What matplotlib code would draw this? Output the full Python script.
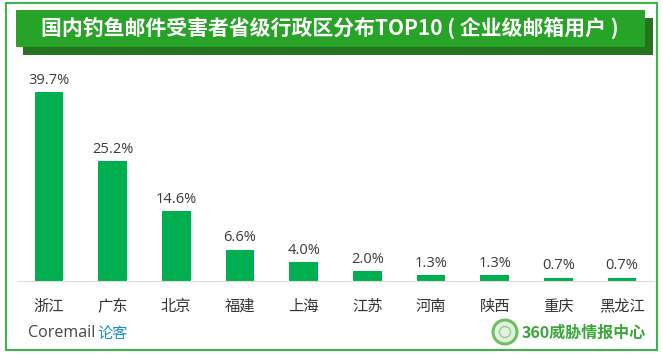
import matplotlib
matplotlib.use('Agg')
from matplotlib import pyplot as plt
from matplotlib.patches import Rectangle, Ellipse

plt.rcParams['font.family'] = ['Noto Sans CJK SC', 'DejaVu Sans']

provinces = ['浙江', '广东', '北京', '福建', '上海', '江苏', '河南', '陕西', '重庆', '黑龙江']
shares = [39.7, 25.2, 14.6, 6.6, 4.0, 2.0, 1.3, 1.3, 0.7, 0.7]
title = '国内钓鱼邮件受害者省级行政区分布TOP10 ( 企业级邮箱用户 )'

W, H = 663, 354
fig = plt.figure(figsize=(W / 100, H / 100), dpi=100)


def box(x, y, w, h, **kw):
    # rectangle given in pixel coords measured from the top-left corner
    fig.patches.append(Rectangle((x / W, (H - y - h) / H), w / W, h / H,
                                 transform=fig.transFigure, **kw))


# outer green frame
box(6, 3, 651, 347, fill=False, edgecolor='#3db54a', linewidth=1.5)

# title banner with shadow
box(23, 18, 630, 37, facecolor='#26731f', edgecolor='none')
box(16, 10, 629, 37, facecolor='#27a327', edgecolor='none')
fig.text(330 / W, (H - 28) / H, title, color='white', fontsize=15, fontweight='bold',
         ha='center', va='center')

ax = fig.add_axes([17 / W, (H - 281) / H, 637 / W, 221 / H])
bars = ax.bar(range(len(provinces)), shares, width=0.45, color='#00b050')
ax.bar_label(bars, labels=[f'{v:.1f}%' for v in shares], padding=3, fontsize=10.5,
             color='#3a3a3a', family=['Open Sans', 'DejaVu Sans'])
ax.set_xlim(-0.5, len(provinces) - 0.5)
ax.set_ylim(0, 46.4)
ax.set_xticks(range(len(provinces)))
ax.set_xticklabels(provinces, fontsize=11, color='#333333')
ax.tick_params(axis='x', length=0, pad=12)
ax.set_yticks([])
for side in ['left', 'right', 'top']:
    ax.spines[side].set_visible(False)
ax.spines['bottom'].set_color('#dcdcdc')

# footer branding
fy = (H - 333) / H
fig.text(28 / W, fy, 'Coremail', fontsize=11.5, color='#444444', va='center',
         family=['Open Sans', 'DejaVu Sans'])
fig.text(97 / W, fy, '论客', fontsize=11, color='#1a8fd8', va='center')
fig.patches.append(Ellipse((505 / W, (H - 332) / H), 24 / W, 24 / H, transform=fig.transFigure,
                           facecolor='#e2f2de', edgecolor='#6dbf5f', linewidth=2.2))
fig.patches.append(Ellipse((505 / W, (H - 332) / H), 11 / W, 11 / H, transform=fig.transFigure,
                           facecolor='none', edgecolor='#9fd494', linewidth=1.2))
fig.text(522 / W, fy, '360威胁情报中心', fontsize=11.5, color='#3aa63a',
         fontweight='bold', va='center')

fig.savefig('out.png', dpi=100)
